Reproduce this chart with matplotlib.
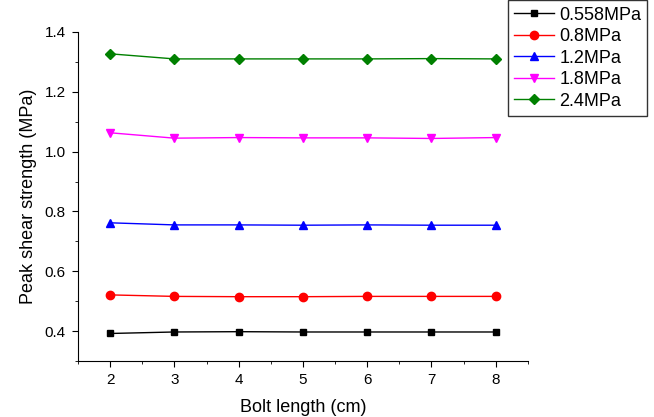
import matplotlib
matplotlib.use("Agg")
import matplotlib.pyplot as plt
from matplotlib.ticker import MultipleLocator, FormatStrFormatter

plt.rcParams['font.family'] = ['Liberation Sans', 'DejaVu Sans']

# Bolt length (cm)
bolt_length = [2, 3, 4, 5, 6, 7, 8]
# Peak shear strength (MPa) for each normal stress
s_0558 = [0.392, 0.397, 0.398, 0.397, 0.397, 0.397, 0.397]
s_08 = [0.521, 0.516, 0.515, 0.515, 0.516, 0.516, 0.516]
s_12 = [0.762, 0.755, 0.755, 0.754, 0.755, 0.754, 0.754]
s_18 = [1.063, 1.045, 1.047, 1.046, 1.046, 1.044, 1.047]
s_24 = [1.327, 1.310, 1.310, 1.310, 1.310, 1.311, 1.310]

labels = ['0.558MPa', '0.8MPa', '1.2MPa', '1.8MPa', '2.4MPa']

fig = plt.figure(figsize=(6.54, 4.17), dpi=100)
ax = fig.add_axes([0.1193, 0.1343, 0.6877, 0.7890])

ax.plot(bolt_length, s_0558, color='black', marker='s', ms=5, lw=1, label=labels[0])
ax.plot(bolt_length, s_08, color='red', marker='o', ms=6, lw=1, label=labels[1])
ax.plot(bolt_length, s_12, color='blue', marker='^', ms=6, lw=1, label=labels[2])
ax.plot(bolt_length, s_18, color='magenta', marker='v', ms=6, lw=1, label=labels[3])
ax.plot(bolt_length, s_24, color='#008000', marker='D', ms=5, lw=1, label=labels[4])

ax.set_xlim(1.5, 8.5)
ax.set_ylim(0.3, 1.4)
ax.xaxis.set_major_locator(MultipleLocator(1))
ax.xaxis.set_minor_locator(MultipleLocator(0.5))
ax.yaxis.set_major_locator(MultipleLocator(0.2))
ax.yaxis.set_minor_locator(MultipleLocator(0.1))
ax.yaxis.set_major_formatter(FormatStrFormatter('%.1f'))
ax.tick_params(which='both', direction='out', labelsize=11)
ax.tick_params(which='major', length=4, pad=5)
ax.tick_params(which='minor', length=2.5)
ax.spines['top'].set_visible(False)
ax.spines['right'].set_visible(False)

ax.set_xlabel('Bolt length (cm)', fontsize=13, labelpad=8)
ax.set_ylabel('Peak shear strength (MPa)', fontsize=13, labelpad=5)

leg = fig.legend(loc='upper right', bbox_to_anchor=(0.99, 0.999), fontsize=13,
                 frameon=True, fancybox=False, edgecolor='black', handlelength=2.2,
                 borderpad=0.35, labelspacing=0.25, handletextpad=0.3,
                 borderaxespad=0)
leg.get_frame().set_linewidth(1)

fig.savefig('out.png', dpi=100)
